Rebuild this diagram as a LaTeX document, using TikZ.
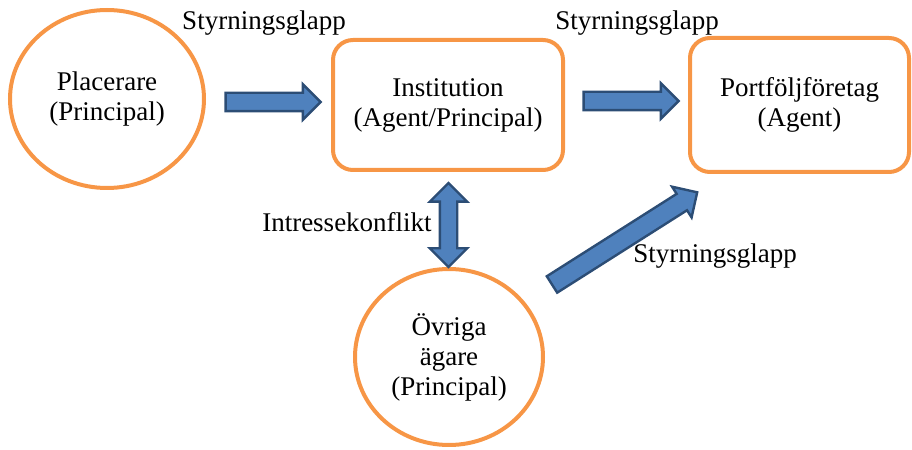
\documentclass[tikz,border=0pt]{standalone}
\usepackage{fontspec}
\setmainfont{Liberation Serif}
\usetikzlibrary{shapes.geometric, shapes.arrows, calc}
\definecolor{boxorange}{RGB}{247,150,70}
\definecolor{arrblue}{RGB}{79,129,189}
\definecolor{arrdark}{RGB}{44,77,117}

\begin{document}
\begin{tikzpicture}[
  x=0.5pt, y=0.5pt,
  every node/.style={font=\fontsize{13.5}{15}\selectfont, align=center},
  circ/.style={ellipse, draw=boxorange, line width=2pt, inner sep=0pt},
  rbox/.style={draw=boxorange, line width=2pt, rounded corners=10pt},
  lbl/.style={inner sep=1pt},
  blockarr/.style={single arrow, draw=arrdark, fill=arrblue, line width=1.2pt, inner xsep=0pt, inner ysep=4pt, minimum width=16.5pt, single arrow head extend=4.25pt},
  dblarr/.style={double arrow, draw=arrdark, fill=arrblue, line width=1.2pt, inner xsep=0pt, inner ysep=3.75pt, minimum width=17.5pt, double arrow head extend=5pt}
]
  \useasboundingbox (0,0) rectangle (912,450);

  % parties
  \node[circ, minimum width=97pt, minimum height=89pt] (placerare) at (107,351) {Placerare\\(Principal)};
  \node[rbox, minimum width=115pt, minimum height=65pt] (inst) at (448,345) {Institution\\(Agent/Principal)};
  \node[rbox, minimum width=109.5pt, minimum height=67pt] (portf) at (799.5,345) {Portföljföretag\\(Agent)};
  \node[circ, minimum width=94pt, minimum height=88pt] (ovriga) at (449,93) {Övriga\\ägare\\(Principal)};

  % block arrows
  \node[blockarr, minimum height=47.5pt] (a1) at ($(placerare.east)!0.5!(inst.west)$) {};
  \node[blockarr, minimum height=47.5pt, yshift=2pt] (a2) at ($(inst.east)!0.5!(portf.west)$) {};
  \node[dblarr, minimum height=42pt, rotate=90, xshift=-2.75pt] (a3) at ($(inst.south)!0.5!(ovriga.north)$) {};
  \node[blockarr, minimum height=86pt, rotate=32.4, inner ysep=4.25pt] (a4) at (620.5,209) {};

  % labels
  \node[lbl] (s1) at (264,427) {Styrningsglapp};
  \node[lbl] (s2) at (637,427) {Styrningsglapp};
  \node[lbl] (s3) at (715,194) {Styrningsglapp};
  \node[lbl] (konf) at (347,228) {Intressekonflikt};
\end{tikzpicture}
\end{document}
